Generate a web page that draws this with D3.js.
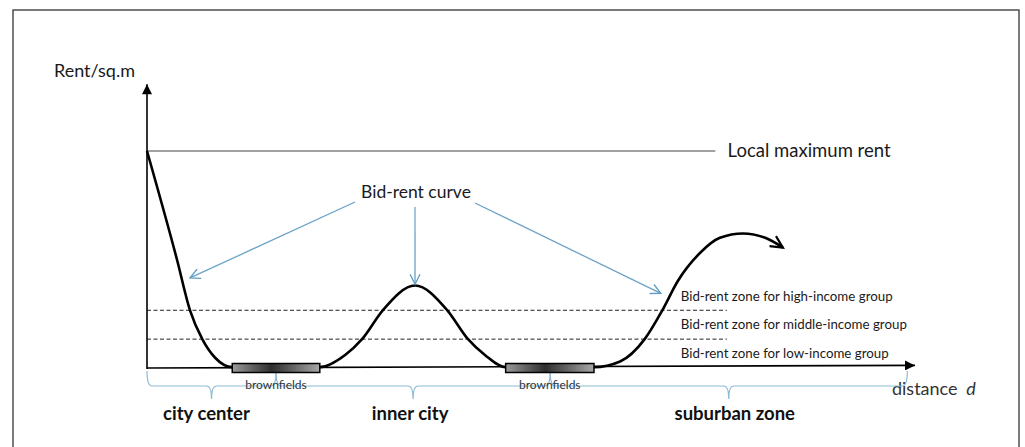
<!DOCTYPE html>
<html>
<head>
<meta charset="utf-8">
<script src="https://cdn.jsdelivr.net/npm/d3@7"></script>
<style>
  body { margin: 0; background: #fff; }
  text { font-family: Lato, "Open Sans", sans-serif; }
</style>
</head>
<body>
<script>
const width = 1025;
const height = 447;

// bid-rent curve, distance (0-100) vs rent (0-100 = local max)
const curveDist = [0, 3.9, 5.6, 7.2, 8.9, 11.1, 22.5, 25.8, 28.0, 30.7, 34.9, 39.1, 41.8, 44.0, 46.7, 58.2, 61.6, 64.8, 67.1, 69.1, 72.0, 74.6, 77.6, 80.5, 82.8];
const curveRent = [100, 50, 26.6, 13.3, 4.6, 0.4, 0.4, 6, 13.3, 26.6, 38, 26.6, 13.3, 6, 0.4, 0.4, 3, 13.3, 26.6, 40, 53, 60, 62, 60, 55.5];

const brownStart = [11.1, 46.7];
const brownEnd = [22.5, 58.2];

const zoneBounds = [0, 16.8, 52.5, 99];
const zoneNames = ["city center", "inner city", "suburban zone"];

const incomeLines = [26.6, 13.3];
const incomeLabels = ["Bid-rent zone for high-income group", "Bid-rent zone for middle-income group", "Bid-rent zone for low-income group"];
const incomeMid = [33.25, 19.95, 6.65];

const maxRent = 100;
const arrowTargets = [[5.6, 41.5], [34.9, 38.6], [66.9, 34.4]];

const svg = d3.select("body").append("svg").attr("width", width).attr("height", height);

const x = d3.scaleLinear().domain([0, 100]).range([147, 915]);
const y = d3.scaleLinear().domain([0, 100]).range([368, 151]);

const defs = svg.append("defs");
defs.append("marker").attr("id", "solid").attr("viewBox", "0 0 10 10")
  .attr("refX", 10).attr("refY", 5).attr("markerWidth", 12).attr("markerHeight", 10)
  .attr("markerUnits", "userSpaceOnUse").attr("orient", "auto")
  .append("path").attr("d", "M0,0L10,5L0,10Z").attr("fill", "#000");
defs.append("marker").attr("id", "openBlue").attr("viewBox", "-12 -7 14 14")
  .attr("refX", 0).attr("refY", 0).attr("markerWidth", 14).attr("markerHeight", 14)
  .attr("markerUnits", "userSpaceOnUse").attr("orient", "auto")
  .append("path").attr("d", "M-10,-5L0,0L-10,5").attr("fill", "none")
  .attr("stroke", "#5f9dc2").attr("stroke-width", 1.3);
defs.append("marker").attr("id", "openBlack").attr("viewBox", "-14 -8 16 16")
  .attr("refX", 0).attr("refY", 0).attr("markerWidth", 16).attr("markerHeight", 16)
  .attr("markerUnits", "userSpaceOnUse").attr("orient", "auto")
  .append("path").attr("d", "M-12,-6L0,0L-12,6").attr("fill", "none")
  .attr("stroke", "#000").attr("stroke-width", 2.2);
const grad = defs.append("linearGradient").attr("id", "bf");
grad.append("stop").attr("offset", "0%").attr("stop-color", "#9a9a9a");
grad.append("stop").attr("offset", "45%").attr("stop-color", "#2e2e2e");
grad.append("stop").attr("offset", "100%").attr("stop-color", "#a8a8a8");

// frame
svg.append("rect").attr("x", 13).attr("y", 10).attr("width", 1006).attr("height", 450)
  .attr("fill", "none").attr("stroke", "#333").attr("stroke-width", 1.3);

// local maximum line
svg.append("line").attr("x1", x(0)).attr("x2", x(74)).attr("y1", y(maxRent)).attr("y2", y(maxRent))
  .attr("stroke", "#444").attr("stroke-width", 1);
svg.append("text").attr("x", x(75.6)).attr("y", y(maxRent)).attr("dy", "0.35em")
  .attr("font-size", 18.5).attr("fill", "#1a1a1a").text("Local maximum rent");

// income dashed lines
svg.selectAll(".dash").data(incomeLines).join("line")
  .attr("x1", x(0)).attr("x2", x(75.5)).attr("y1", d => y(d)).attr("y2", d => y(d))
  .attr("stroke", "#222").attr("stroke-width", 1).attr("stroke-dasharray", "4,2.5");
svg.selectAll(".inc").data(incomeLabels).join("text")
  .attr("x", x(69.5)).attr("y", (d, i) => y(incomeMid[i])).attr("dy", "0.35em")
  .attr("font-size", 13.3).attr("fill", "#1a1a1a").text(d => d);

// axes
svg.append("line").attr("x1", x(0)).attr("x2", x(0)).attr("y1", y(0) + 1).attr("y2", y(130.8))
  .attr("stroke", "#000").attr("stroke-width", 1.6).attr("marker-end", "url(#solid)");
svg.append("line").attr("x1", x(0)).attr("x2", x(100)).attr("y1", y(0)).attr("y2", y(1.2))
  .attr("stroke", "#000").attr("stroke-width", 1.6).attr("marker-end", "url(#solid)");
svg.append("text").attr("x", 54).attr("y", 77).attr("font-size", 18).attr("fill", "#1a1a1a").text("Rent/sq.m");
const dist = svg.append("text").attr("x", x(97.0)).attr("y", 395).attr("font-size", 18).attr("fill", "#333");
dist.append("tspan").text("distance ");
dist.append("tspan").attr("font-style", "italic").attr("dx", 4).text("d");

// zone braces
const by = 386;
zoneNames.forEach((name, i) => {
  const a = x(zoneBounds[i]), b = x(zoneBounds[i + 1]), m = (a + b) / 2;
  const p = d3.path();
  p.moveTo(a, 371);
  p.quadraticCurveTo(a, by, a + 5, by);
  p.lineTo(m - 5, by);
  p.quadraticCurveTo(m, by, m, by + 13);
  p.quadraticCurveTo(m, by, m + 5, by);
  p.lineTo(b - 5, by);
  p.quadraticCurveTo(b, by, b, 371);
  svg.append("path").attr("d", p.toString()).attr("fill", "none")
    .attr("stroke", "#8dbbd6").attr("stroke-width", 1.2);
  svg.append("text").attr("x", m - (i === 0 ? 5 : i === 2 ? -6 : 3)).attr("y", 420).attr("text-anchor", "middle")
    .attr("font-size", 18.5).attr("font-weight", "bold").attr("fill", "#111").text(name);
});

// curve
const line = d3.line().x(d => x(d[0])).y(d => y(d[1])).curve(d3.curveMonotoneX);
svg.append("path").datum(curveDist.map((d, i) => [d, curveRent[i]]))
  .attr("d", line).attr("fill", "none").attr("stroke", "#000").attr("stroke-width", 2.6)
  .attr("marker-end", "url(#openBlack)");

// brownfields
brownStart.forEach((s, i) => {
  svg.append("rect").attr("x", x(s)).attr("y", y(0) - 4.5).attr("width", x(brownEnd[i]) - x(s)).attr("height", 9)
    .attr("fill", "url(#bf)").attr("stroke", "#000").attr("stroke-width", 1.5);
  svg.append("text").attr("x", x((s + brownEnd[i]) / 2)).attr("y", 389).attr("text-anchor", "middle")
    .attr("font-size", 12).attr("fill", "#2a3540").text("brownfields");
});

// bid-rent curve label and arrows
const lx = 416, ly = 198;
svg.append("text").attr("x", lx).attr("y", ly).attr("text-anchor", "middle")
  .attr("font-size", 17.5).attr("fill", "#1a1a1a").text("Bid-rent curve");
const starts = [[lx - 61, ly + 4], [lx - 1, ly + 9], [lx + 59, ly + 5]];
arrowTargets.forEach((t, i) => {
  svg.append("line").attr("x1", starts[i][0]).attr("y1", starts[i][1])
    .attr("x2", x(t[0])).attr("y2", y(t[1]))
    .attr("stroke", "#6aa3c6").attr("stroke-width", 1.3).attr("marker-end", "url(#openBlue)");
});
</script>
</body>
</html>
